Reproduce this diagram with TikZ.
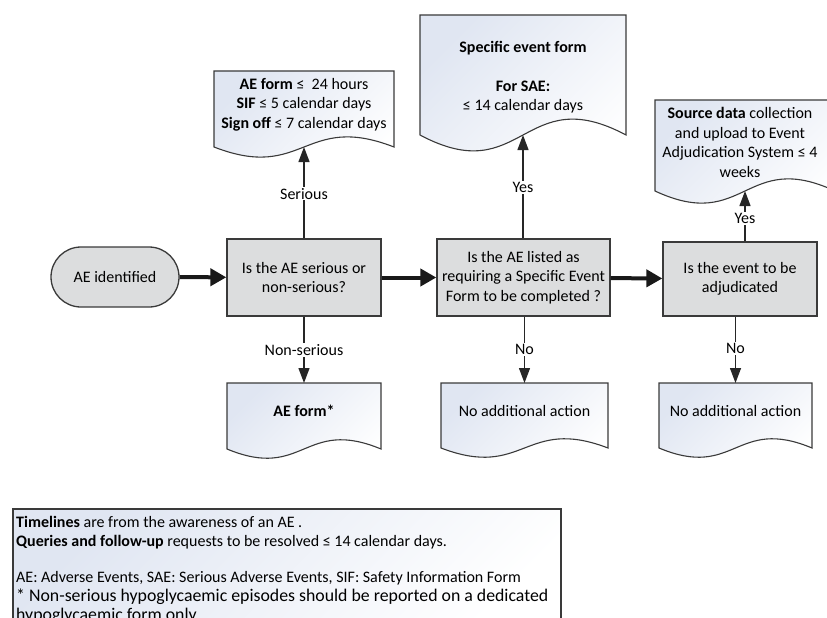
\documentclass[tikz,border=0pt]{standalone}
\usepackage{fontspec}
\setmainfont{Carlito}
\usetikzlibrary{arrows.meta}
\definecolor{boxgray}{HTML}{DCDDDE}
\definecolor{docblue}{HTML}{E0E6F2}
\definecolor{edgec}{HTML}{3A3A3A}
\newcommand{\docshape}[5]{%
  \path[docsty] (#1,#2) -- (#3,#2) -- (#3,#4)
    .. controls ({(#1+#3)/2},{#4-#5}) and ({(#1+#3)/2},{#4+#5}) .. (#1,#4) -- cycle;}
\tikzset{
  docsty/.style={draw=edgec, line width=1.1pt, top color=docblue, bottom color=white, shading angle=45},
  decision/.style={draw=edgec, line width=1.3pt, fill=boxgray, align=center, inner sep=0pt,
    font=\fontsize{16}{19.5}\selectfont},
  term/.style={draw=edgec, line width=1.3pt, fill=boxgray, rounded corners=30pt,
    minimum width=128pt, minimum height=60pt, inner sep=0pt, font=\fontsize{16}{19.5}\selectfont},
  doctext/.style={align=center, inner sep=0pt, font=\fontsize{16}{19.5}\selectfont},
  lbl/.style={fill=white, inner sep=1.2pt, font=\fontsize{16}{19}\selectfont},
  smallarrow/.style={draw=black!85, line width=1.3pt, -{Triangle[length=15pt,width=11pt]}},
  bigarrow/.style={draw=black!90, line width=4pt, -{Triangle[length=16pt,width=17pt]}},
  notesty/.style={draw=edgec, line width=1.3pt, top color=docblue, bottom color=white, shading angle=45},
  notetext/.style={inner sep=0pt, anchor=base west, font=\fontsize{16}{18.5}\selectfont},
  notebig/.style={inner sep=0pt, anchor=base west, font=\fontsize{17.8}{18.5}\selectfont}
}
\begin{document}
\begin{tikzpicture}[x=1pt,y=-1pt]
\path[use as bounding box] (0,0) rectangle (827,618);
\clip (0,0) rectangle (827,618);

% start and decisions
\node[term] (ae) at (115,277) {AE identified};
\node[decision, minimum width=154pt, minimum height=77pt] (dec1) at (304,277.5)
  {Is the AE serious or\\non-serious?};
\node[decision, minimum width=173pt, minimum height=77pt] (dec2) at (523.5,277.5)
  {Is the AE listed as\\requiring a Specific Event\\Form to be completed ?};
\node[decision, minimum width=154pt, minimum height=74pt] (dec3) at (740,279)
  {Is the event to be\\adjudicated};

% documents
\docshape{214}{71}{394}{147}{35}
\node[doctext] (d1) at (304,104.5)
  {\textbf{AE form} ≤~ 24 hours\\\textbf{SIF} ≤ 5 calendar days\\\textbf{Sign off} ≤ 7 calendar days};
\coordinate (d1b) at (304,147);

\docshape{420}{15}{626}{135}{55}
\node[doctext] (d2) at (523,77)
  {\textbf{Specific event form}\\[19.5pt]\textbf{For SAE:}\\≤ 14 calendar days};
\coordinate (d2b) at (523,135);

\docshape{655}{100}{835}{191}{42}
\node[doctext] (d3) at (740,142.5)
  {\textbf{Source data} collection\\and upload to Event\\Adjudication System ≤ 4\\weeks};
\coordinate (d3b) at (745,191);

\docshape{227}{383}{381}{449}{32}
\node[doctext] (aef) at (304,411) {\textbf{AE form*}};
\coordinate (aeft) at (304,383);

\docshape{441}{383}{608}{448}{32}
\node[doctext] (nad1) at (524.5,411) {No additional action};
\coordinate (nad1t) at (524.5,383);

\docshape{659}{383}{812}{448}{32}
\node[doctext] (nad2) at (735.5,411) {No additional action};
\coordinate (nad2t) at (735.5,383);

% connectors
\draw[bigarrow] (ae) -- (dec1);
\draw[bigarrow] (dec1) -- (dec2);
\draw[bigarrow] (dec2) -- (dec3);
\draw[smallarrow] (dec1.north) -- node[lbl,pos=0.49] {Serious} (d1b);
\draw[smallarrow] (dec1.south) -- node[lbl,pos=0.5] {Non-serious} (aeft);
\draw[smallarrow] (dec2.north -| d2b) -- node[lbl,pos=0.49] {Yes} (d2b);
\draw[smallarrow] (dec2.south -| nad1t) -- node[lbl,pos=0.5] {No} (nad1t);
\draw[smallarrow] (dec3.north -| d3b) -- node[lbl,pos=0.46] {Yes} (d3b);
\draw[smallarrow] (dec3.south -| nad2t) -- node[lbl,pos=0.48] {No} (nad2t);

% note box
\path[notesty] (13,509) rectangle (561,640);
\node[notetext] (n1) at (16,527) {\textbf{Timelines} are from the awareness of an AE .};
\node[notetext] (n2) at (16,546) {\textbf{Queries and follow-up} requests to be resolved ≤ 14 calendar days.};
\node[notetext] (n3) at (16,582) {AE: Adverse Events, SAE: Serious Adverse Events, SIF: Safety Information Form};
\node[notebig] (n4) at (16,601.5) {* Non-serious hypoglycaemic episodes should be reported on a dedicated};
\node[notebig] (n5) at (16,620) {hypoglycaemic form only.};
\end{tikzpicture}
\end{document}
